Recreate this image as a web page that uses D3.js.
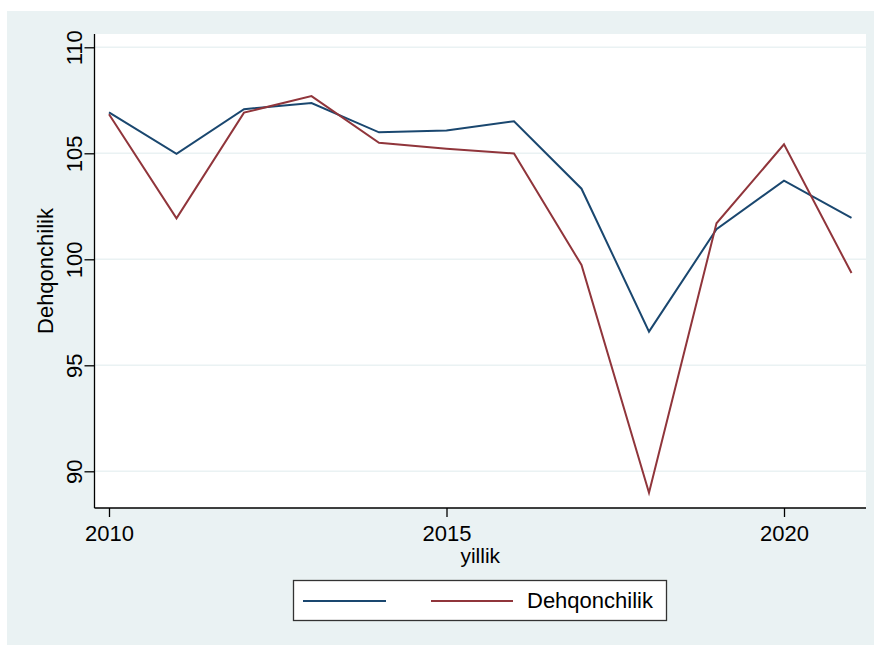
<!DOCTYPE html>
<html>
<head>
<meta charset="utf-8">
<script src="https://cdn.jsdelivr.net/npm/d3@7"></script>
<style>
  html, body { margin: 0; padding: 0; background: #ffffff; }
  svg { display: block; font-family: "Liberation Sans", Arial, sans-serif; }
</style>
</head>
<body>
<svg id="chart" width="874" height="646"></svg>
<script>
const years = [2010, 2011, 2012, 2013, 2014, 2015, 2016, 2017, 2018, 2019, 2020, 2021];
const seriesBlue = [106.93, 104.97, 107.08, 107.37, 105.99, 106.08, 106.51, 103.33, 96.59, 101.42, 103.71, 101.95];
const seriesRed  = [106.84, 101.93, 106.92, 107.70, 105.50, 105.22, 104.99, 99.73, 88.99, 101.70, 105.42, 99.35];
const yTicks = [90, 95, 100, 105, 110];
const xTicks = [2010, 2015, 2020];
const seriesNames = ["", "Dehqonchilik"];
const yTitle = "Dehqonchilik";
const xTitle = "yillik";

const colors = ["#1a476f", "#90353b"];
const svg = d3.select("#chart");

// outer panel
svg.append("rect").attr("x", 7).attr("y", 11).attr("width", 867).attr("height", 634).attr("fill", "#eaf2f3");

const plot = { left: 94.5, right: 866, top: 34, bottom: 508 };
svg.append("rect").attr("x", plot.left).attr("y", plot.top)
  .attr("width", plot.right - plot.left).attr("height", plot.bottom - plot.top).attr("fill", "#ffffff");

const x = d3.scaleLinear().domain([2010, 2020]).range([109, 784]);
const y = d3.scaleLinear().domain([90, 110]).range([471.3, 47.3]);

// gridlines
svg.append("g").selectAll("line").data(yTicks).join("line")
  .attr("x1", plot.left).attr("x2", plot.right)
  .attr("y1", d => y(d)).attr("y2", d => y(d))
  .attr("stroke", "#eaf2f3").attr("stroke-width", 1.6);

// y axis
const yAxis = svg.append("g").attr("transform", `translate(${plot.left},0)`)
  .call(d3.axisLeft(y).tickValues(yTicks).tickSize(10).tickPadding(3).tickFormat(d3.format("d")));
yAxis.select(".domain").attr("d", `M0,${plot.top}V${plot.bottom}`).attr("stroke", "#000").attr("stroke-width", 1.3);
yAxis.selectAll(".tick line").attr("stroke", "#000").attr("stroke-width", 1.3);
yAxis.selectAll(".tick text")
  .attr("font-size", 22).attr("fill", "#000").attr("font-family", "Liberation Sans, Arial, sans-serif")
  .attr("text-anchor", "middle").attr("dy", 0)
  .attr("x", 0).attr("transform", "translate(-13,0) rotate(-90)");

// x axis
const xAxis = svg.append("g").attr("transform", `translate(0,${plot.bottom})`)
  .call(d3.axisBottom(x).tickValues(xTicks).tickSize(9).tickPadding(8).tickFormat(d3.format("d")));
xAxis.select(".domain").attr("d", `M${plot.left},0H${plot.right}`).attr("stroke", "#000").attr("stroke-width", 1.3);
xAxis.selectAll(".tick line").attr("stroke", "#000").attr("stroke-width", 1.3);
xAxis.selectAll(".tick text")
  .attr("font-size", 22).attr("fill", "#000").attr("font-family", "Liberation Sans, Arial, sans-serif")
  .attr("dy", 0).attr("y", 33);

// titles
svg.append("text").attr("x", (plot.left + plot.right) / 2).attr("y", 563)
  .attr("text-anchor", "middle").attr("font-size", 21).attr("fill", "#000").text(xTitle);
svg.append("text").attr("transform", `translate(53,${(plot.top + plot.bottom) / 2}) rotate(-90)`)
  .attr("text-anchor", "middle").attr("font-size", 22).attr("fill", "#000").text(yTitle);

// lines
const line = d3.line().x((d, i) => x(years[i])).y(d => y(d));
[seriesBlue, seriesRed].forEach((s, k) => {
  svg.append("path").datum(s).attr("d", line)
    .attr("fill", "none").attr("stroke", colors[k]).attr("stroke-width", 2)
    .attr("stroke-linejoin", "miter");
});

// legend
const lg = svg.append("g");
lg.append("rect").attr("x", 293.5).attr("y", 580.5).attr("width", 373).attr("height", 40)
  .attr("fill", "#ffffff").attr("stroke", "#333").attr("stroke-width", 1.3);
const legendItems = [
  { x1: 303, x2: 386 },
  { x1: 431, x2: 513 }
];
legendItems.forEach((it, k) => {
  lg.append("line").attr("x1", it.x1).attr("x2", it.x2).attr("y1", 601).attr("y2", 601)
    .attr("stroke", colors[k]).attr("stroke-width", 2);
  lg.append("text").attr("x", it.x2 + 14).attr("y", 607.5).attr("font-size", 22).attr("fill", "#000")
    .text(seriesNames[k]);
});
</script>
</body>
</html>
